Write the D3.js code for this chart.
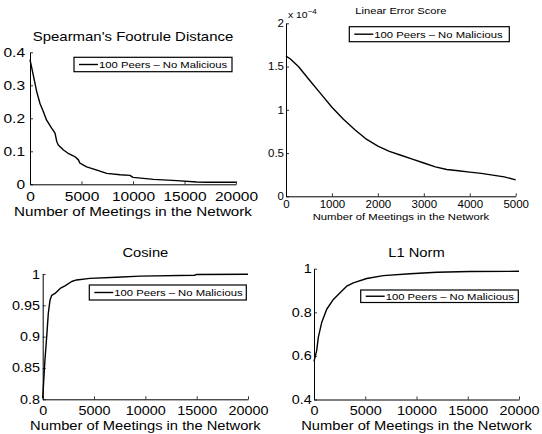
<!DOCTYPE html>
<html>
<head>
<meta charset="utf-8">
<script src="https://cdn.jsdelivr.net/npm/d3@7"></script>
<style>
  html, body { margin: 0; padding: 0; background: #fff; }
  svg { display: block; }
  text { font-family: "Liberation Sans", Arial, Helvetica, sans-serif; fill: #000; }
</style>
</head>
<body>
<div id="chart"></div>
<script>
// values
const legendLabel = "100 Peers \u2013 No Malicious";

const spearX = [0, 320, 650, 970, 1300, 1600, 2100, 2430, 2600, 2750, 3250, 3700, 4350, 4700, 4850, 5500, 6500, 7450, 8750, 9700, 10000, 12000, 14250, 16200, 17150, 20000];
const spearY = [0.378, 0.331, 0.281, 0.245, 0.22, 0.195, 0.17, 0.155, 0.129, 0.119, 0.104, 0.094, 0.084, 0.074, 0.064, 0.053, 0.043, 0.033, 0.029, 0.027, 0.021, 0.015, 0.011, 0.007, 0.006, 0.006];

// linear error score, in units of 1e-4
const linErrX = [0, 90, 270, 500, 750, 1000, 1250, 1500, 1750, 2000, 2250, 2500, 2750, 3000, 3250, 3500, 3750, 4000, 4250, 4500, 4750, 5000];
const linErrY = [1.62, 1.59, 1.5, 1.35, 1.19, 1.03, 0.89, 0.77, 0.66, 0.58, 0.52, 0.475, 0.43, 0.385, 0.34, 0.31, 0.295, 0.28, 0.265, 0.245, 0.225, 0.19];

const cosX = [0, 220, 390, 545, 710, 880, 1200, 1700, 2170, 2820, 3300, 4600, 7200, 9500, 14800, 15000, 20000];
const cosY = [0.802, 0.863, 0.9, 0.937, 0.958, 0.966, 0.969, 0.977, 0.981, 0.988, 0.9905, 0.993, 0.9947, 0.9966, 0.998, 0.9993, 0.9995];

const l1X = [0, 260, 420, 750, 1240, 1890, 2540, 3190, 3840, 5140, 6760, 9370, 12000, 15200, 20000];
const l1Y = [0.575, 0.624, 0.685, 0.753, 0.814, 0.859, 0.89, 0.92, 0.935, 0.955, 0.968, 0.977, 0.984, 0.987, 0.988];

const ticks20k = [0, 5000, 10000, 15000, 20000];
const ticks5k = [0, 1000, 2000, 3000, 4000, 5000];
const spearTicks = [0, 0.1, 0.2, 0.3, 0.4];
const linErrTicks = [0, 0.5, 1, 1.5, 2];
const cosTicks = [0.8, 0.85, 0.9, 0.95, 1];
const l1Ticks = [0.4, 0.6, 0.8, 1];

const xLabel = "Number of Meetings in the Network";

// text in the original is a bit wider than normal Helvetica
const K = 1.15;

const panels = [
  { title: "Spearman's Footrule Distance", xs: spearX, ys: spearY, xDom: [0, 20000], yDom: [0, 0.4],
    xTicks: ticks20k, yTicks: spearTicks,
    box: [30, 236, 52.3, 184.3], titleY: 41, titleFs: 13, tickFs: 13.5, labelFs: 13.2, labelY: 216,
    xPad: 17, yPad: 5, legend: [74, 57.3, 158, 14.4] },
  { title: "Linear Error Score", xs: linErrX, ys: linErrY, xDom: [0, 5000], yDom: [0, 2],
    xTicks: ticks5k, yTicks: linErrTicks,
    box: [286, 515.7, 23.3, 196.3], titleY: 14, titleFs: 9.7, tickFs: 10, labelFs: 9.8, labelY: 219.5,
    xPad: 12, yPad: 2, legend: [349.3, 26.7, 160, 15], exponent: true },
  { title: "Cosine", xs: cosX, ys: cosY, xDom: [0, 20000], yDom: [0.8, 1],
    xTicks: ticks20k, yTicks: cosTicks,
    box: [42.7, 248, 274, 399.3], titleY: 256.7, titleFs: 12.8, tickFs: 12.5, labelFs: 12.8, labelY: 430,
    xPad: 15.7, yPad: 2.7, legend: [89.3, 285, 157, 15] },
  { title: "L1 Norm", xs: l1X, ys: l1Y, xDom: [0, 20000], yDom: [0.4, 1],
    xTicks: ticks20k, yTicks: l1Ticks,
    box: [314, 519, 268.7, 399.5], titleY: 256.7, titleFs: 12.8, tickFs: 12.5, labelFs: 12.8, labelY: 430,
    xPad: 15.5, yPad: 2.3, legend: [360.7, 290, 157.6, 12.5] }
];

const svg = d3.select("#chart").append("svg")
  .attr("width", 542)
  .attr("height", 434);

function wideText(sel, x, y) {
  return sel.attr("transform", `translate(${x},${y}) scale(${K},1)`);
}

panels.forEach(p => {
  const [x0, x1, y0, y1] = p.box;
  const x = d3.scaleLinear().domain(p.xDom).range([x0, x1]);
  const y = d3.scaleLinear().domain(p.yDom).range([y1, y0]);
  const g = svg.append("g");

  // curve
  const pts = p.xs.map((v, i) => [v, p.ys[i]]);
  g.append("path")
    .datum(pts)
    .attr("fill", "none")
    .attr("stroke", "#000")
    .attr("stroke-width", 1.4)
    .attr("stroke-linejoin", "round")
    .attr("d", d3.line().x(d => x(d[0])).y(d => y(d[1])));

  // axes, MATLAB style: inward ticks, no box
  const xAxis = g.append("g")
    .attr("transform", `translate(0,${y1})`)
    .call(d3.axisBottom(x).tickValues(p.xTicks).tickFormat(d3.format("d"))
      .tickSizeInner(-3).tickSizeOuter(0).tickPadding(p.xPad - 0.71 * p.tickFs));
  const yAxis = g.append("g")
    .attr("transform", `translate(${x0},0)`)
    .call(d3.axisLeft(y).tickValues(p.yTicks).tickFormat(d3.format("~g"))
      .tickSizeInner(-3).tickSizeOuter(0).tickPadding(p.yPad));

  [xAxis, yAxis].forEach(a => {
    a.select(".domain").attr("stroke", "#000").attr("stroke-width", 1);
    a.selectAll(".tick line").attr("stroke", "#000").attr("stroke-width", 0.8);
    a.selectAll("text")
      .attr("font-family", null)
      .style("font-size", p.tickFs + "px")
      .each(function () {
        const t = d3.select(this);
        const tx = +t.attr("x") || 0;
        t.attr("x", tx / K).attr("transform", `scale(${K},1)`);
      });
  });

  // title
  wideText(g.append("text"), (x0 + x1) / 2, p.titleY)
    .attr("text-anchor", "middle")
    .style("font-size", p.titleFs + "px")
    .text(p.title);

  // x label
  wideText(g.append("text"), (x0 + x1) / 2, p.labelY)
    .attr("text-anchor", "middle")
    .style("font-size", p.labelFs + "px")
    .text(xLabel);

  if (p.exponent) {
    const ex = wideText(g.append("text"), x0 + 2, y0 - 5)
      .style("font-size", "9px");
    ex.append("tspan").text("x 10");
    ex.append("tspan").attr("dy", -4).style("font-size", "7px").text("\u22124");
  }

  // legend
  const [lx, ly, lw, lh] = p.legend;
  const lg = g.append("g").attr("transform", `translate(${lx},${ly})`);
  lg.append("rect")
    .attr("width", lw).attr("height", lh)
    .attr("fill", "#fff").attr("stroke", "#000").attr("stroke-width", 1.2);
  lg.append("line")
    .attr("x1", 5).attr("x2", 24)
    .attr("y1", lh / 2).attr("y2", lh / 2)
    .attr("stroke", "#000").attr("stroke-width", 1.4);
  wideText(lg.append("text"), 25, lh / 2 + 3.5)
    .style("font-size", "9.8px")
    .text(legendLabel);
});
</script>
</body>
</html>
